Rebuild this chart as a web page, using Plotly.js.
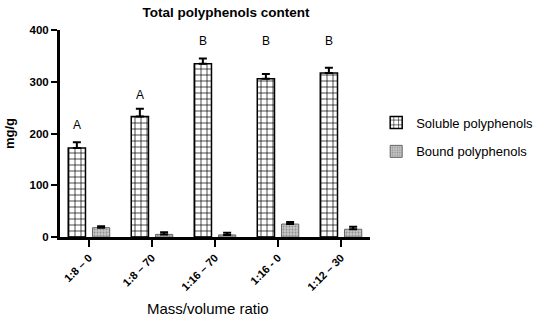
<!DOCTYPE html>
<html>
<head>
<meta charset="utf-8">
<script src="https://cdn.plot.ly/plotly-3.0.1.min.js"></script>
<style>html,body{margin:0;padding:0;background:#fff;}#chart{width:550px;height:323px;}</style>
</head>
<body>
<div id="chart"></div>
<script>
var categories = ["1:8 \u2013 0", "1:8 \u2013 70", "1:16 \u2013 70", "1:16 - 0", "1:12 \u2013 30"];
var solubleValues = [172, 233, 335, 306, 317];
var solubleErrors = [11, 15, 10, 9, 10];
var boundValues = [18, 5, 4, 25, 15];
var boundErrors = [3, 4, 4, 4, 5];
var letters = ["A", "A", "B", "B", "B"];
var letterHeights = [216, 274, 378, 378, 378];
var yTicks = [0, 100, 200, 300, 400];

var font = "Liberation Sans, Arial, Helvetica, sans-serif";

var soluble = {
  type: "bar", name: "Soluble polyphenols", x: categories, y: solubleValues,
  legendgroup: "s",
  marker: {color: "#ffffff", line: {color: "#000", width: 1.5},
    pattern: {shape: "+", size: 6, solidity: 0.22, fgcolor: "#000", bgcolor: "#fff", fillmode: "replace"}},
  error_y: {type: "data", array: solubleErrors, arrayminus: [0,0,0,0,0], color: "#000", thickness: 2, width: 4}
};
var bound = {
  type: "bar", name: "Bound polyphenols", x: categories, y: boundValues,
  legendgroup: "b",
  marker: {color: "#b3b3b3", line: {color: "#666", width: 1},
    pattern: {shape: ".", size: 3, solidity: 0.3, fgcolor: "#8f8f8f", bgcolor: "#c6c6c6", fillmode: "replace"}},
  error_y: {type: "data", array: boundErrors, arrayminus: [0,0,0,0,0], color: "#000", thickness: 2, width: 4}
};

var annotations = categories.map(function(c, i) {
  return {x: c, y: letterHeights[i], xref: "x", yref: "y", text: letters[i], showarrow: false,
    xshift: -12, font: {family: font, size: 12, color: "#000"}};
});
annotations.push({x: 0.478, y: 0, xref: "paper", yref: "paper", yshift: -71, text: "Mass/volume ratio",
  showarrow: false, xanchor: "center", yanchor: "middle", font: {family: font, size: 15, color: "#000"}});

var layout = {
  width: 550, height: 323,
  margin: {l: 60, r: 178, t: 30, b: 86},
  paper_bgcolor: "#fff", plot_bgcolor: "#fff",
  barmode: "group", bargap: 0.23, bargroupgap: 0.29,
  showlegend: true,
  title: {text: "<b>Total polyphenols content</b>", x: 0.411, xanchor: "center", y: 0.962, yanchor: "middle",
    font: {family: font, size: 13.5, color: "#000"}},
  xaxis: {
    range: [-0.46, 4.46], showline: true, linecolor: "#000", linewidth: 3,
    ticks: "outside", ticklen: 7, tickwidth: 2, tickcolor: "#000",
    tickangle: -45, tickfont: {family: font, size: 11, color: "#000", weight: "bold"},
    showgrid: false, zeroline: false, fixedrange: true
  },
  yaxis: {
    range: [0, 400], tickvals: yTicks, showline: true, linecolor: "#000", linewidth: 3,
    ticks: "outside", ticklen: 6, tickwidth: 2, tickcolor: "#000", ticklabelstandoff: 0,
    tickfont: {family: font, size: 11.5, color: "#000", weight: "bold"},
    showgrid: false, zeroline: false,
    title: {text: "<b>mg/g</b>", standoff: 12, font: {family: font, size: 13, color: "#000"}}
  },
  legend: {x: 1.02, xanchor: "left", y: 0.483, yanchor: "middle", tracegroupgap: 9,
    font: {family: font, size: 13, color: "#000"}, bgcolor: "rgba(0,0,0,0)"},
  annotations: annotations
};

Plotly.newPlot("chart", [soluble, bound], layout, {staticPlot: true, displayModeBar: false});
</script>
</body>
</html>
